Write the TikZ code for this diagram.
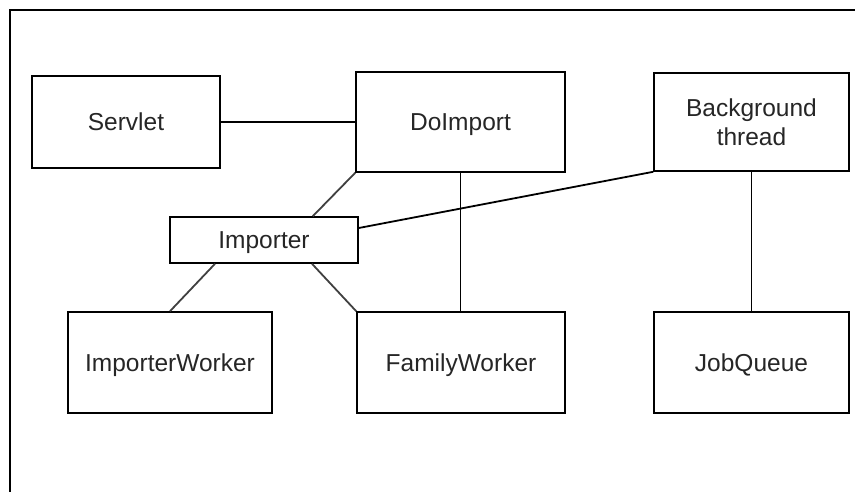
\documentclass[tikz,border=0pt]{standalone}
\usepackage{fontspec}
\setmainfont{Liberation Sans}
\begin{document}
\begin{tikzpicture}[x=1pt,y=-1pt,
  box/.style={draw=black,line width=1.6pt,fill=white,inner sep=0pt,align=center,
    text=black!85,font=\fontsize{24.5}{29}\selectfont},
  oneline/.style={text depth=0pt},
  link/.style={draw=black,line width=1.8pt},
  slant/.style={link,draw=black!75},
  frame/.style={draw=black,line width=2pt}]
  \useasboundingbox (0,0) rectangle (855,492);
  % outer frame, open at the right and bottom
  \draw[frame] (10,492) -- (10,10) -- (855,10);

  \node[box,oneline,minimum width=188pt,minimum height=92pt] (servlet) at (126,122) {Servlet};
  \node[box,oneline,minimum width=209pt,minimum height=100pt] (doimport) at (460.5,122) {DoImport};
  \node[box,minimum width=195pt,minimum height=98pt] (bg) at (751.5,122) {Background\\thread};
  \node[box,oneline,minimum width=188pt,minimum height=46pt] (importer) at (264,240) {Importer};
  \node[box,oneline,minimum width=204pt,minimum height=101pt] (iworker) at (170,362.5) {ImporterWorker};
  \node[box,oneline,minimum width=208pt,minimum height=101pt] (fworker) at (461,362.5) {FamilyWorker};
  \node[box,oneline,minimum width=195pt,minimum height=101pt] (jobq) at (751.5,362.5) {JobQueue};

  \draw[link] (servlet.east) -- (doimport.west);
  \draw[slant] (doimport.south west) -- ([xshift=-46pt]importer.north east);
  \draw[link] (doimport.south) -- (fworker.north -| doimport.south);
  \draw[link] (bg.south west) -- ([yshift=12pt]importer.east);
  \draw[link] (bg.south) -- (jobq.north -| bg.south);
  \draw[slant] ([xshift=-49pt]importer.south) -- (iworker.north);
  \draw[slant] ([xshift=48pt]importer.south) -- (fworker.north west);
\end{tikzpicture}
\end{document}
